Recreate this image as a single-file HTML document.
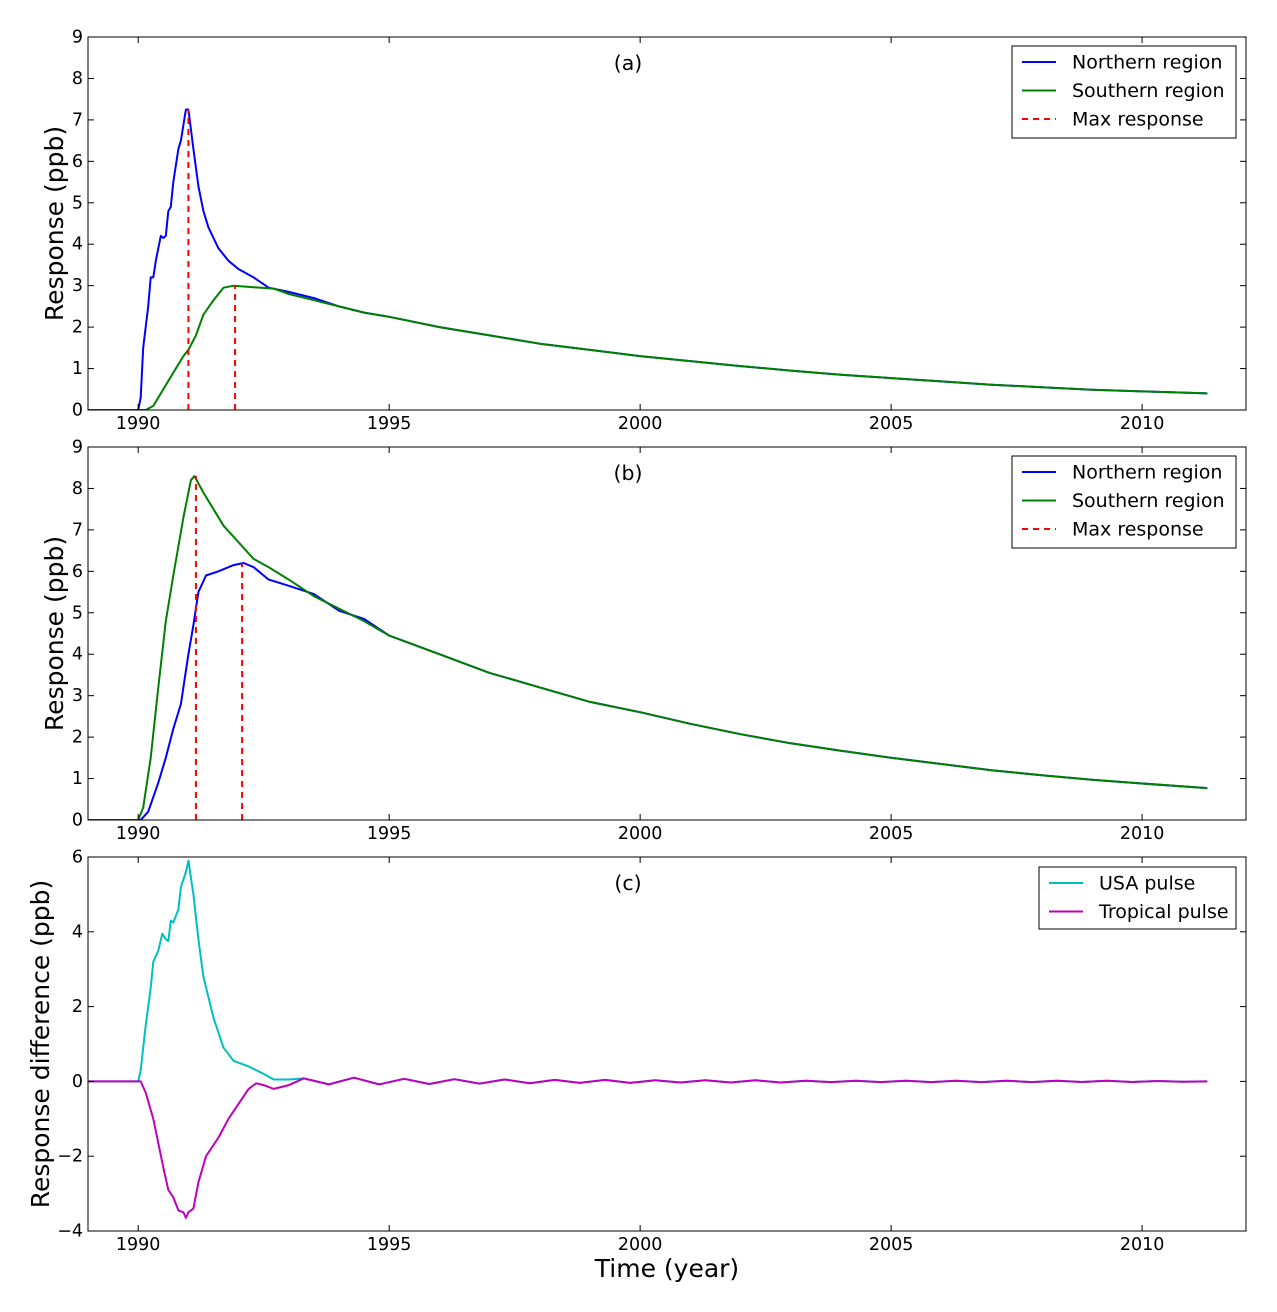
<!DOCTYPE html>
<html><head><meta charset="utf-8"><style>
body{margin:0;background:#fff;}
svg{display:block;font-family:"DejaVu Sans","Liberation Sans",sans-serif;}
</style></head><body>
<svg id="chart" width="1277" height="1312" viewBox="0 0 1277 1312" xmlns="http://www.w3.org/2000/svg"></svg>
<script>
// ---- data ----
const tail = [[1993.3,0.08],[1993.8,-0.08],[1994.3,0.1],[1994.8,-0.08],[1995.3,0.07],[1995.8,-0.07],[1996.3,0.06],[1996.8,-0.06],[1997.3,0.05],[1997.8,-0.05],[1998.3,0.04],[1998.8,-0.04],[1999.3,0.04],[1999.8,-0.04],[2000.3,0.03],[2000.8,-0.03],[2001.3,0.03],[2001.8,-0.03],[2002.3,0.03],[2002.8,-0.03],[2003.3,0.02],[2003.8,-0.02],[2004.3,0.02],[2004.8,-0.02],[2005.3,0.02],[2005.8,-0.02],[2006.3,0.02],[2006.8,-0.02],[2007.3,0.02],[2007.8,-0.02],[2008.3,0.015],[2008.8,-0.015],[2009.3,0.015],[2009.8,-0.015],[2010.3,0.01],[2010.8,-0.01],[2011.3,0.0]];
const decayA = [[1995,2.25],[1996,2.0],[1997,1.8],[1998,1.6],[1999,1.45],[2000,1.3],[2001,1.18],[2002,1.06],[2003,0.95],[2004,0.85],[2005,0.77],[2006,0.69],[2007,0.61],[2008,0.55],[2009,0.49],[2010,0.45],[2011.3,0.4]];
const decayB = [[1995,4.45],[1996,4.0],[1997,3.55],[1998,3.2],[1999,2.85],[2000,2.6],[2001,2.32],[2002,2.07],[2003,1.85],[2004,1.67],[2005,1.5],[2006,1.35],[2007,1.2],[2008,1.08],[2009,0.97],[2010,0.88],[2011.3,0.77]];
const northA = [[1989,0],[1990,0],[1990.05,0.3],[1990.1,1.5],[1990.2,2.5],[1990.25,3.2],[1990.3,3.2],[1990.35,3.6],[1990.45,4.2],[1990.5,4.15],[1990.55,4.2],[1990.6,4.8],[1990.65,4.9],[1990.7,5.5],[1990.8,6.3],[1990.85,6.5],[1990.95,7.25],[1991.0,7.25],[1991.1,6.3],[1991.2,5.4],[1991.3,4.8],[1991.4,4.4],[1991.6,3.9],[1991.8,3.6],[1992,3.4],[1992.3,3.2],[1992.6,2.95],[1993,2.85],[1993.5,2.7],[1994,2.5],[1994.5,2.35]].concat(decayA);
const southA = [[1989,0],[1990.15,0],[1990.3,0.1],[1990.5,0.5],[1990.7,0.9],[1990.9,1.3],[1991.0,1.45],[1991.15,1.8],[1991.3,2.3],[1991.5,2.65],[1991.7,2.95],[1991.9,3.0],[1992.2,2.97],[1992.7,2.93],[1993,2.8],[1993.5,2.65],[1994,2.5],[1994.5,2.35]].concat(decayA);
const maxA = [[1991.0,7.25],[1991.93,3.0]];
const northB = [[1989,0],[1990.05,0],[1990.2,0.2],[1990.4,0.9],[1990.55,1.5],[1990.7,2.2],[1990.85,2.8],[1991.0,4.0],[1991.1,4.7],[1991.2,5.5],[1991.35,5.9],[1991.6,6.0],[1991.9,6.15],[1992.1,6.2],[1992.3,6.1],[1992.6,5.8],[1993,5.65],[1993.5,5.45],[1994,5.05],[1994.5,4.85]].concat(decayB);
const southB = [[1989,0],[1990.0,0],[1990.1,0.3],[1990.25,1.5],[1990.4,3.2],[1990.55,4.8],[1990.7,5.9],[1990.9,7.3],[1991.05,8.2],[1991.12,8.3],[1991.3,7.9],[1991.5,7.5],[1991.7,7.1],[1992,6.7],[1992.3,6.3],[1992.6,6.1],[1993,5.8],[1993.5,5.4],[1994,5.1],[1994.5,4.8]].concat(decayB);
const maxB = [[1991.15,8.3],[1992.07,6.2]];
const usa = [[1989,0],[1990.0,0],[1990.05,0.3],[1990.15,1.5],[1990.25,2.5],[1990.3,3.2],[1990.4,3.5],[1990.48,3.95],[1990.55,3.8],[1990.6,3.75],[1990.65,4.3],[1990.7,4.25],[1990.8,4.6],[1990.85,5.2],[1990.95,5.6],[1991.0,5.9],[1991.1,5.0],[1991.2,3.8],[1991.3,2.8],[1991.5,1.7],[1991.7,0.9],[1991.9,0.55],[1992.2,0.4],[1992.5,0.2],[1992.7,0.05],[1993,0.05]].concat(tail);
const trop = [[1989,0],[1990.05,0],[1990.15,-0.3],[1990.3,-1.0],[1990.5,-2.3],[1990.6,-2.9],[1990.7,-3.1],[1990.8,-3.45],[1990.9,-3.5],[1990.95,-3.65],[1991.0,-3.5],[1991.1,-3.4],[1991.2,-2.7],[1991.35,-2.0],[1991.6,-1.5],[1991.8,-1.0],[1992.0,-0.6],[1992.2,-0.2],[1992.35,-0.05],[1992.5,-0.1],[1992.7,-0.2],[1993,-0.1]].concat(tail);
const xTicks = [1990,1995,2000,2005,2010];
const yTicksAB = [0,1,2,3,4,5,6,7,8,9];
const yTicksC = [-4,-2,0,2,4,6];

// ---- drawing ----
const NS="http://www.w3.org/2000/svg";
const svg=document.getElementById('chart');
const X0=88,X1=1246,XMIN=1989,XMAX=2012.07;
function sx(t){return X0+(t-XMIN)/(XMAX-XMIN)*(X1-X0);}
function el(tag,attrs,parent){const e=document.createElementNS(NS,tag);for(const k in attrs)e.setAttribute(k,attrs[k]);(parent||svg).appendChild(e);return e;}
function txt(x,y,s,size,anchor,parent,rot){const t=el('text',{x:x,y:y,'font-size':size,'text-anchor':anchor||'middle',fill:'#000'},parent);if(rot)t.setAttribute('transform','rotate(-90 '+x+' '+y+')');t.textContent=s;return t;}

function panel(name,top,bot,ymin,ymax,yticks,ylabel,ylx,series,maxes,legend,label,legendBox){
  const g=el('g',{});
  
  
  const sy=v=>bot-(v-ymin)/(ymax-ymin)*(bot-top);
  const clip='clip-'+name;
  const cp=el('clipPath',{id:clip},g);el('rect',{x:X0,y:top,width:X1-X0,height:bot-top},cp);
  series.forEach(s=>{
    const p=el('polyline',{points:s.d.map(q=>sx(q[0]).toFixed(1)+','+sy(q[1]).toFixed(1)).join(' '),fill:'none',stroke:s.c,'stroke-width':2,'stroke-linejoin':'round','clip-path':'url(#'+clip+')'},g);
    
    
  });
  (maxes||[]).forEach(m=>{
    const l=el('line',{x1:sx(m[0]),x2:sx(m[0]),y1:sy(0),y2:sy(m[1]),stroke:'#f00','stroke-width':2,'stroke-dasharray':'6,5'},g);
    
    
  });
  el('rect',{x:X0,y:top,width:X1-X0,height:bot-top,fill:'none',stroke:'#000','stroke-width':1},g);
  xTicks.forEach(t=>{const x=sx(t);el('line',{x1:x,x2:x,y1:bot,y2:bot-6,stroke:'#000'},g);el('line',{x1:x,x2:x,y1:top,y2:top+6,stroke:'#000'},g);const l=txt(x,bot+19,String(t),17.5,'middle',g);});
  yticks.forEach(v=>{const y=sy(v);el('line',{x1:X0,x2:X0+6,y1:y,y2:y,stroke:'#000'},g);el('line',{x1:X1,x2:X1-6,y1:y,y2:y,stroke:'#000'},g);const l=txt(X0-5,y+5.5,String(v).replace('-','\u2212'),17.5,'end',g);});
  const yl=txt(ylx,(top+bot)/2,ylabel,25,'middle',g,true);
  const pl=txt(628,top+33,label,20.5,'middle',g);
  const lg=el('g',{},g);
  
  
  el('rect',{x:legendBox[0],y:legendBox[1],width:legendBox[2],height:legendBox[3],fill:'#fff',stroke:'#000'},lg);
  legend.forEach((e,i)=>{const y=legendBox[1]+16+i*28.5;
    el('line',{x1:legendBox[0]+10,x2:legendBox[0]+44,y1:y,y2:y,stroke:e.c,'stroke-width':2,'stroke-dasharray':e.dash||'none'},lg);
    const t=txt(legendBox[0]+60,y+6.5,e.n,19,'start',lg);});
}
const legAB=[{n:'Northern region',c:'#00f'},{n:'Southern region',c:'#008000'},{n:'Max response',c:'#f00',dash:'6,5'}];
panel('panel-a',37,410,0,9,yTicksAB,'Response (ppb)',63,[{n:'northern-region-line',c:'#00f',d:northA},{n:'southern-region-line',c:'#008000',d:southA}],maxA,legAB,'(a)',[1012,46,224,92]);
panel('panel-b',447,820,0,9,yTicksAB,'Response (ppb)',63,[{n:'northern-region-line',c:'#00f',d:northB},{n:'southern-region-line',c:'#008000',d:southB}],maxB,legAB,'(b)',[1012,456,224,92]);
panel('panel-c',857,1231,-4,6,yTicksC,'Response difference (ppb)',49,[{n:'usa-pulse-line',c:'#00bfbf',d:usa},{n:'tropical-pulse-line',c:'#bf00bf',d:trop}],null,[{n:'USA pulse',c:'#00bfbf'},{n:'Tropical pulse',c:'#bf00bf'}],'(c)',[1039,867,197,62]);
const xt=txt(667,1277,'Time (year)',25,'middle');


</script>
</body></html>
